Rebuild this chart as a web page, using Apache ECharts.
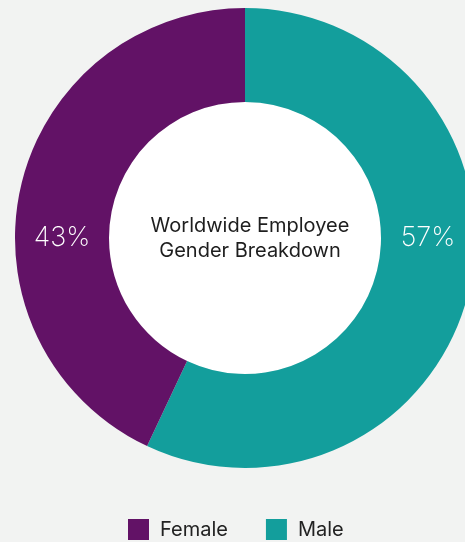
<!DOCTYPE html>
<html><head><meta charset="utf-8">
<script src="https://cdn.jsdelivr.net/npm/echarts@6/dist/echarts.min.js"></script>
<style>html,body{margin:0;padding:0;background:#f2f3f2;}#c{width:465px;height:542px;}</style>
</head><body><div id="c"></div>
<script>
const categories = ['Male', 'Female'];
const values = [57, 43];
const legendOrder = ['Female', 'Male'];
const colors = { Male: '#139e9c', Female: '#621266' };
const centerTitle = 'Worldwide Employee\nGender Breakdown';

const CX = 245, CY = 238, R0 = 136, R1 = 230;
const chart = echarts.init(document.getElementById('c'));
chart.setOption({
  backgroundColor: '#f2f3f2',
  animation: false,
  title: {
    text: centerTitle,
    left: CX, top: CY - 5, textAlign: 'center', textVerticalAlign: 'middle',
    textStyle: { fontFamily: 'Inter', fontSize: 20, fontWeight: 400, color: '#1e1e1e', lineHeight: 25 }
  },
  legend: {
    data: legendOrder,
    left: 123, top: 514,
    itemWidth: 21, itemHeight: 21, itemGap: 38,
    icon: 'rect',
    textStyle: { fontFamily: 'Inter', fontSize: 20, color: '#222', padding: [0, 0, 0, 6] }
  },
  series: [{
    type: 'pie',
    center: [CX, CY],
    radius: [0, R0],
    silent: true,
    label: { show: false },
    labelLine: { show: false },
    itemStyle: { color: '#ffffff' },
    data: [{ name: 'hole', value: 1 }],
    z: 1
  }, {
    type: 'pie',
    center: [CX, CY],
    radius: [R0, R1],
    startAngle: 90,
    clockwise: true,
    label: {
      position: 'inside',
      formatter: '{c}%',
      color: '#ffffff',
      fontFamily: 'Inter',
      fontWeight: 200,
      fontSize: 27
    },
    labelLayout: function (p) {
      const mid = (R0 + R1) / 2;
      const isLeft = categories[p.dataIndex] === 'Female';
      return { x: isLeft ? CX - mid : CX + mid, y: CY, align: 'center', verticalAlign: 'middle' };
    },
    labelLine: { show: false },
    emphasis: { disabled: true },
    data: categories.map((n, i) => ({ name: n, value: values[i], itemStyle: { color: colors[n] } }))
  }]
});
</script></body></html>
